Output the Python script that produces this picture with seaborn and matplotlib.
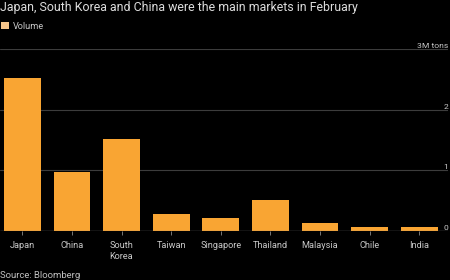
import matplotlib
matplotlib.use("Agg")
import matplotlib.pyplot as plt
from matplotlib.patches import Patch
import seaborn as sns
import pandas as pd

countries = ["Japan", "China", "South\nKorea", "Taiwan", "Singapore", "Thailand", "Malaysia", "Chile", "India"]
volume = [2.52, 0.98, 1.52, 0.28, 0.21, 0.51, 0.13, 0.07, 0.07]
ytick_vals = [0, 1, 2, 3]
ytick_labels = ["0", "1", "2", "3M tons"]

title = "Japan, South Korea and China were the main markets in February"
legend_label = "Volume"
source = "Source: Bloomberg"

BAR = "#F9A533"
BG = "#000000"

sns.set_theme(style="dark")
plt.rcParams["font.family"] = ["Roboto", "DejaVu Sans"]

df = pd.DataFrame({"country": countries, "volume": volume})

fig = plt.figure(figsize=(4.5, 2.8), dpi=100, facecolor=BG)
ax = fig.add_axes([0.0, 49 / 280, 448 / 450, 182 / 280], facecolor=BG)

sns.barplot(data=df, x="country", y="volume", color=BAR, width=0.74,
            saturation=1, linewidth=0, edgecolor="none", ax=ax, zorder=3)

ax.set_xlim(-0.45, 8.58)
ax.set_ylim(0, 3)
for s in ax.spines.values():
    s.set_visible(False)

ax.yaxis.tick_right()
ax.set_yticks(ytick_vals)
ax.set_yticklabels(ytick_labels)
for lbl in ax.get_yticklabels():
    lbl.set_ha("right")
    lbl.set_va("bottom")
ax.tick_params(axis="y", length=0, pad=0, labelsize=6.1, labelcolor="#c8c8c8")
ax.grid(axis="y", color="#3c3c3c", linewidth=0.8, zorder=0)
ax.grid(axis="x", visible=False)
ax.axhline(0, color="#8a8a8a", linewidth=0.9, zorder=4)

ax.tick_params(axis="x", length=3, width=0.6, color="#8a8a8a", labelsize=6.6,
               labelcolor="#c8c8c8", pad=4.5, bottom=True)
ax.set_xlabel("")
ax.set_ylabel("")

fig.text(0.0, 0.995, title, color="#dcdcdc", fontsize=8.9, ha="left", va="top")
fig.legend(handles=[Patch(facecolor="#F5C48A", edgecolor="none", label=legend_label)],
           loc="upper left", bbox_to_anchor=(-0.005, 0.935), frameon=False,
           fontsize=6.6, labelcolor="#c8c8c8", handlelength=0.8, handleheight=0.8,
           handletextpad=0.5, borderaxespad=0)
fig.text(0.0, 0.0, source, color="#c0c0c0", fontsize=6.8, ha="left", va="bottom")

fig.savefig("out.png", dpi=100, facecolor=BG)
